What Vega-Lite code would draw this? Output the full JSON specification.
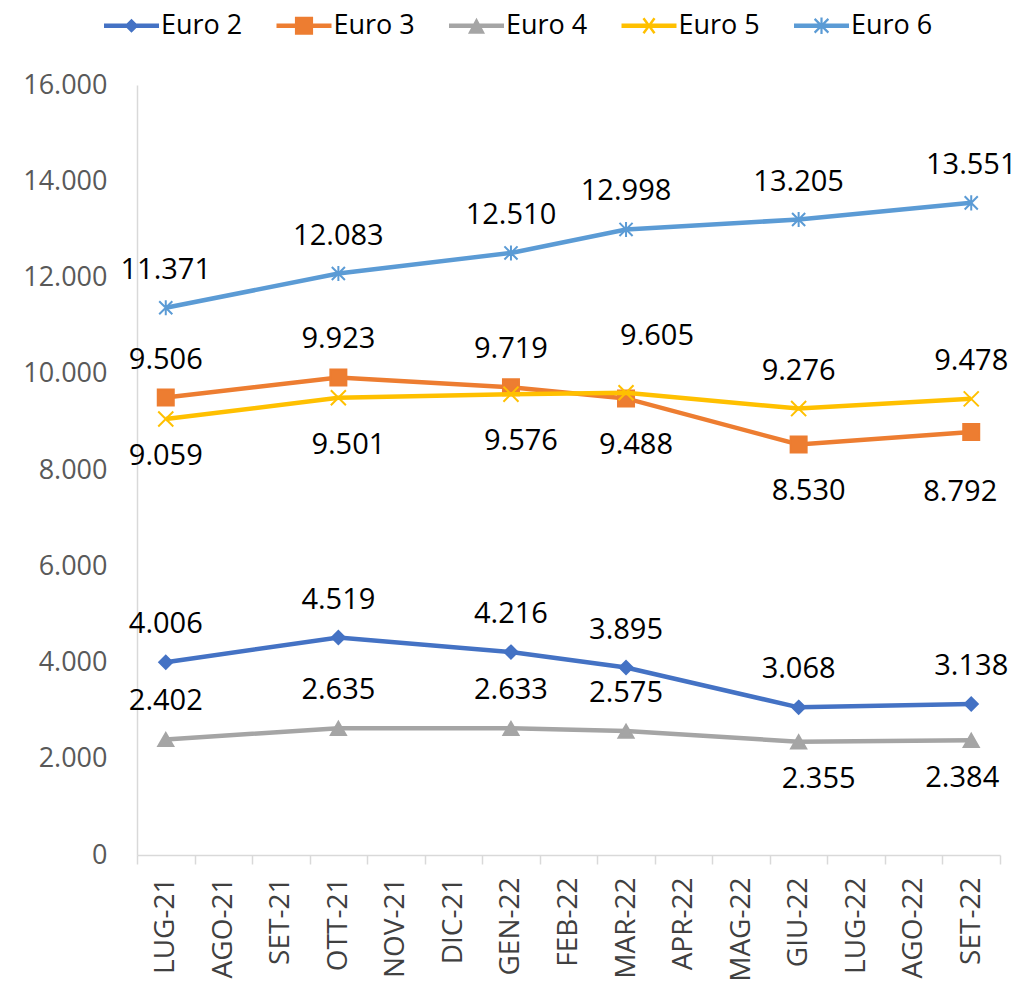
{
  "$schema": "https://vega.github.io/schema/vega-lite/v6.json",
  "width": 863,
  "height": 770,
  "autosize": {"type": "none"},
  "padding": {"left": 137, "top": 85, "right": 23, "bottom": 132},
  "config": {
    "locale": {"number": {"decimal": ",", "thousands": ".", "grouping": [3], "currency": ["€", ""]}},
    "view": {"stroke": null},
    "font": "Open Sans",
    "axis": {"grid": false, "domainColor": "#D9D9D9", "domainWidth": 1.5, "labelFont": "Open Sans", "title": null},
    "line": {"strokeWidth": 4.5},
    "point": {"filled": true, "size": 1024, "strokeWidth": 2, "opacity": 1},
    "text": {"fontSize": 29, "color": "#000000", "baseline": "middle", "align": "center", "font": "Open Sans"}
  },
  "data": {"values": [
    {"mese": "LUG-21", "serie": "Euro 2", "v": 4006, "pos": "a"},
    {"mese": "OTT-21", "serie": "Euro 2", "v": 4519, "pos": "a"},
    {"mese": "GEN-22", "serie": "Euro 2", "v": 4216, "pos": "a"},
    {"mese": "MAR-22", "serie": "Euro 2", "v": 3895, "pos": "a"},
    {"mese": "GIU-22", "serie": "Euro 2", "v": 3068, "pos": "a"},
    {"mese": "SET-22", "serie": "Euro 2", "v": 3138, "pos": "a"},
    {"mese": "LUG-21", "serie": "Euro 3", "v": 9506, "pos": "a"},
    {"mese": "OTT-21", "serie": "Euro 3", "v": 9923, "pos": "a"},
    {"mese": "GEN-22", "serie": "Euro 3", "v": 9719, "pos": "a"},
    {"mese": "MAR-22", "serie": "Euro 3", "v": 9488, "pos": "br"},
    {"mese": "GIU-22", "serie": "Euro 3", "v": 8530, "pos": "br"},
    {"mese": "SET-22", "serie": "Euro 3", "v": 8792, "pos": "blf"},
    {"mese": "LUG-21", "serie": "Euro 4", "v": 2402, "pos": "a"},
    {"mese": "OTT-21", "serie": "Euro 4", "v": 2635, "pos": "a"},
    {"mese": "GEN-22", "serie": "Euro 4", "v": 2633, "pos": "a"},
    {"mese": "MAR-22", "serie": "Euro 4", "v": 2575, "pos": "a"},
    {"mese": "GIU-22", "serie": "Euro 4", "v": 2355, "pos": "brr"},
    {"mese": "SET-22", "serie": "Euro 4", "v": 2384, "pos": "bl"},
    {"mese": "LUG-21", "serie": "Euro 5", "v": 9059, "pos": "b"},
    {"mese": "OTT-21", "serie": "Euro 5", "v": 9501, "pos": "br"},
    {"mese": "GEN-22", "serie": "Euro 5", "v": 9576, "pos": "br"},
    {"mese": "MAR-22", "serie": "Euro 5", "v": 9605, "pos": "ar"},
    {"mese": "GIU-22", "serie": "Euro 5", "v": 9276, "pos": "a"},
    {"mese": "SET-22", "serie": "Euro 5", "v": 9478, "pos": "a"},
    {"mese": "LUG-21", "serie": "Euro 6", "v": 11371, "pos": "a"},
    {"mese": "OTT-21", "serie": "Euro 6", "v": 12083, "pos": "a"},
    {"mese": "GEN-22", "serie": "Euro 6", "v": 12510, "pos": "a"},
    {"mese": "MAR-22", "serie": "Euro 6", "v": 12998, "pos": "a"},
    {"mese": "GIU-22", "serie": "Euro 6", "v": 13205, "pos": "a"},
    {"mese": "SET-22", "serie": "Euro 6", "v": 13551, "pos": "a"}
  ]},
  "encoding": {
    "x": {
      "field": "mese", "type": "ordinal",
      "scale": {"type": "band", "paddingInner": 0, "paddingOuter": 0,
        "domain": ["LUG-21", "AGO-21", "SET-21", "OTT-21", "NOV-21", "DIC-21", "GEN-22", "FEB-22", "MAR-22", "APR-22", "MAG-22", "GIU-22", "LUG-22", "AGO-22", "SET-22"]},
      "axis": {"tickBand": "extent", "ticks": true, "tickSize": 9, "tickColor": "#D9D9D9", "tickWidth": 1.5,
        "labelAngle": 270, "labelFontSize": 28, "labelColor": "#404040", "labelPadding": 13}
    },
    "y": {
      "field": "v", "type": "quantitative",
      "scale": {"domain": [0, 16000], "nice": false},
      "axis": {"values": [0, 2000, 4000, 6000, 8000, 10000, 12000, 14000, 16000], "format": ",d", "ticks": false,
        "labelPadding": 30, "labelFontSize": 27, "labelColor": "#595959"}
    }
  },
  "layer": [
    {
      "transform": [{"filter": "datum.v < 0"}],
      "mark": {"type": "point", "filled": true, "size": 3025, "strokeWidth": 2},
      "encoding": {
        "color": {
          "field": "serie", "type": "nominal",
          "scale": {"domain": ["Euro 2", "Euro 3", "Euro 4", "Euro 5", "Euro 6"], "range": ["#4472C4", "#ED7D31", "#A5A5A5", "#FFC000", "#5B9BD5"]},
          "legend": {
            "title": null, "orient": "none", "legendX": -34, "legendY": -88, "direction": "horizontal", "columns": 5,
            "padding": 0, "columnPadding": 32.5, "labelOffset": 1, "labelFontSize": 27, "labelColor": "#000000", "labelFont": "Open Sans",
            "symbolSize": 3025, "symbolStrokeWidth": 2
          }
        },
        "shape": {
          "field": "serie", "type": "nominal", "legend": null,
          "scale": {"domain": ["Euro 2", "Euro 3", "Euro 4", "Euro 5", "Euro 6"], "range": [
            "M-1,-0.082L1,-0.082L1,0.082L-1,0.082Z M0,-0.255L0.255,0L0,0.255L-0.255,0Z",
            "M-1,-0.082L1,-0.082L1,0.082L-1,0.082Z M-0.33,-0.33L0.33,-0.33L0.33,0.33L-0.33,0.33Z",
            "M-1,-0.082L1,-0.082L1,0.082L-1,0.082Z M0,-0.29L0.31,0.29L-0.31,0.29Z",
            "M-1,-0.082L1,-0.082L1,0.082L-1,0.082Z M-0.1638,-0.2968L0.2362,0.2432L0.1638,0.2968L-0.2362,-0.2432Z M-0.2362,0.2432L0.1638,-0.2968L0.2362,-0.2432L-0.1638,0.2968Z",
            "M-1,-0.082L1,-0.082L1,0.082L-1,0.082Z M-0.2217,-0.2783L0.2783,0.2217L0.2217,0.2783L-0.2783,-0.2217Z M-0.2783,0.2217L0.2217,-0.2783L0.2783,-0.2217L-0.2217,0.2783Z M0.04,-0.3L0.04,0.3L-0.04,0.3L-0.04,-0.3Z"
          ]}
        }
      }
    },
    {
      "transform": [{"filter": "datum.serie === 'Euro 2'"}],
      "mark": {"type": "line", "color": "#4472C4"},
      "encoding": {"order": {"value": null}}
    },
    {
      "transform": [{"filter": "datum.serie === 'Euro 2'"}],
      "mark": {"type": "point", "shape": "M0,-0.41L0.41,0L0,0.41L-0.41,0Z", "fill": "#4472C4", "stroke": "#4472C4"}
    },
    {
      "transform": [{"filter": "datum.serie === 'Euro 3'"}],
      "mark": {"type": "line", "color": "#ED7D31"},
      "encoding": {"order": {"value": null}}
    },
    {
      "transform": [{"filter": "datum.serie === 'Euro 3'"}],
      "mark": {"type": "point", "shape": "M-0.5,-0.5L0.5,-0.5L0.5,0.5L-0.5,0.5Z", "fill": "#ED7D31", "stroke": "#ED7D31"}
    },
    {
      "transform": [{"filter": "datum.serie === 'Euro 4'"}],
      "mark": {"type": "line", "color": "#A5A5A5"},
      "encoding": {"order": {"value": null}}
    },
    {
      "transform": [{"filter": "datum.serie === 'Euro 4'"}],
      "mark": {"type": "point", "shape": "M0,-0.4L0.47,0.42L-0.47,0.42Z", "fill": "#A5A5A5", "stroke": "#A5A5A5"}
    },
    {
      "transform": [{"filter": "datum.serie === 'Euro 5'"}],
      "mark": {"type": "line", "color": "#FFC000"},
      "encoding": {"order": {"value": null}}
    },
    {
      "transform": [{"filter": "datum.serie === 'Euro 5'"}],
      "mark": {"type": "point", "shape": "M-0.47,-0.47L0.47,0.47M-0.47,0.47L0.47,-0.47", "fill": "#FFC000", "stroke": "#FFC000"}
    },
    {
      "transform": [{"filter": "datum.serie === 'Euro 6'"}],
      "mark": {"type": "line", "color": "#5B9BD5"},
      "encoding": {"order": {"value": null}}
    },
    {
      "transform": [{"filter": "datum.serie === 'Euro 6'"}],
      "mark": {"type": "point", "shape": "M-0.41,-0.41L0.41,0.41M-0.41,0.41L0.41,-0.41M0,-0.47L0,0.47", "fill": "#5B9BD5", "stroke": "#5B9BD5"}
    },
    {
      "transform": [{"filter": "datum.pos === 'a'"}],
      "mark": {"type": "text", "dy": -38},
      "encoding": {"text": {"field": "v", "type": "quantitative", "format": ",d"}}
    },
    {
      "transform": [{"filter": "datum.pos === 'ar'"}],
      "mark": {"type": "text", "dx": 31, "dy": -57},
      "encoding": {"text": {"field": "v", "type": "quantitative", "format": ",d"}}
    },
    {
      "transform": [{"filter": "datum.pos === 'b'"}],
      "mark": {"type": "text", "dy": 37},
      "encoding": {"text": {"field": "v", "type": "quantitative", "format": ",d"}}
    },
    {
      "transform": [{"filter": "datum.pos === 'br'"}],
      "mark": {"type": "text", "dx": 10, "dy": 47},
      "encoding": {"text": {"field": "v", "type": "quantitative", "format": ",d"}}
    },
    {
      "transform": [{"filter": "datum.pos === 'brr'"}],
      "mark": {"type": "text", "dx": 20, "dy": 37},
      "encoding": {"text": {"field": "v", "type": "quantitative", "format": ",d"}}
    },
    {
      "transform": [{"filter": "datum.pos === 'bl'"}],
      "mark": {"type": "text", "dx": -9, "dy": 38},
      "encoding": {"text": {"field": "v", "type": "quantitative", "format": ",d"}}
    },
    {
      "transform": [{"filter": "datum.pos === 'blf'"}],
      "mark": {"type": "text", "dx": -11, "dy": 60},
      "encoding": {"text": {"field": "v", "type": "quantitative", "format": ",d"}}
    }
  ]
}
